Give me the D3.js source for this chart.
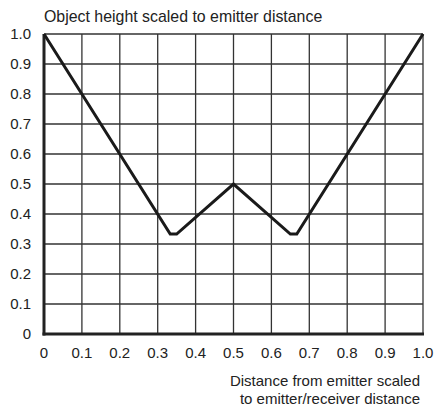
<!DOCTYPE html>
<html><head><meta charset="utf-8">
<script src="https://cdn.jsdelivr.net/npm/d3@7"></script>
<style>body{margin:0;background:#fff}svg{display:block}text{font-family:"Liberation Sans",Arial,sans-serif;fill:#222}</style>
</head><body>
<script>
const xValues = [0, 0.333, 0.35, 0.5, 0.65, 0.667, 1];
const yValues = [1, 0.333, 0.333, 0.5, 0.333, 0.333, 1];
const tickValues = [0,0.1,0.2,0.3,0.4,0.5,0.6,0.7,0.8,0.9,1.0];
const tickLabels = ["0","0.1","0.2","0.3","0.4","0.5","0.6","0.7","0.8","0.9","1.0"];
const yTitle = "Object height scaled to emitter distance";
const xTitle = ["Distance from emitter scaled","to emitter/receiver distance"];

const W=434,H=409;
const svg=d3.select("body").append("svg").attr("width",W).attr("height",H);
const x=d3.scaleLinear().domain([0,1]).range([44,423]);
const y=d3.scaleLinear().domain([0,1]).range([334,34]);

const g=svg.append("g");
g.selectAll("line.v").data(tickValues).join("line")
 .attr("x1",d=>x(d)).attr("x2",d=>x(d)).attr("y1",y(0)).attr("y2",y(1))
 .attr("stroke","#333").attr("stroke-width",1.3);
g.selectAll("line.h").data(tickValues).join("line")
 .attr("y1",d=>y(d)).attr("y2",d=>y(d)).attr("x1",x(0)).attr("x2",x(1))
 .attr("stroke","#333").attr("stroke-width",1.3);
// axes
g.append("line").attr("x1",x(0)).attr("x2",x(0)).attr("y1",y(0)+1.5).attr("y2",y(1)).attr("stroke","#222").attr("stroke-width",3);
g.append("line").attr("x1",x(0)-1.5).attr("x2",x(1)+1).attr("y1",y(0)).attr("y2",y(0)).attr("stroke","#222").attr("stroke-width",3);

// tick labels
svg.selectAll("text.yl").data(tickValues).join("text")
 .attr("x",31).attr("y",d=>y(d)+5).attr("text-anchor","end").attr("font-size",15)
 .text((d,i)=>tickLabels[i]);
svg.selectAll("text.xl").data(tickValues).join("text")
 .attr("x",d=>x(d)).attr("y",358).attr("text-anchor","middle").attr("font-size",15)
 .text((d,i)=>tickLabels[i]);

const pts=xValues.map((v,i)=>[v,yValues[i]]);
svg.append("path").datum(pts)
 .attr("d",d3.line().x(d=>x(d[0])).y(d=>y(d[1])))
 .attr("fill","none").attr("stroke","#1a1a1a").attr("stroke-width",3).attr("stroke-linejoin","miter");

svg.append("text").attr("x",44).attr("y",22).attr("font-size",15.9).text(yTitle);
svg.append("text").attr("x",420).attr("y",386).attr("text-anchor","end").attr("font-size",15)
 .selectAll("tspan").data(xTitle).join("tspan").attr("x",420).attr("dy",(d,i)=>i?18:0).text(d=>d);
</script>
</body></html>
